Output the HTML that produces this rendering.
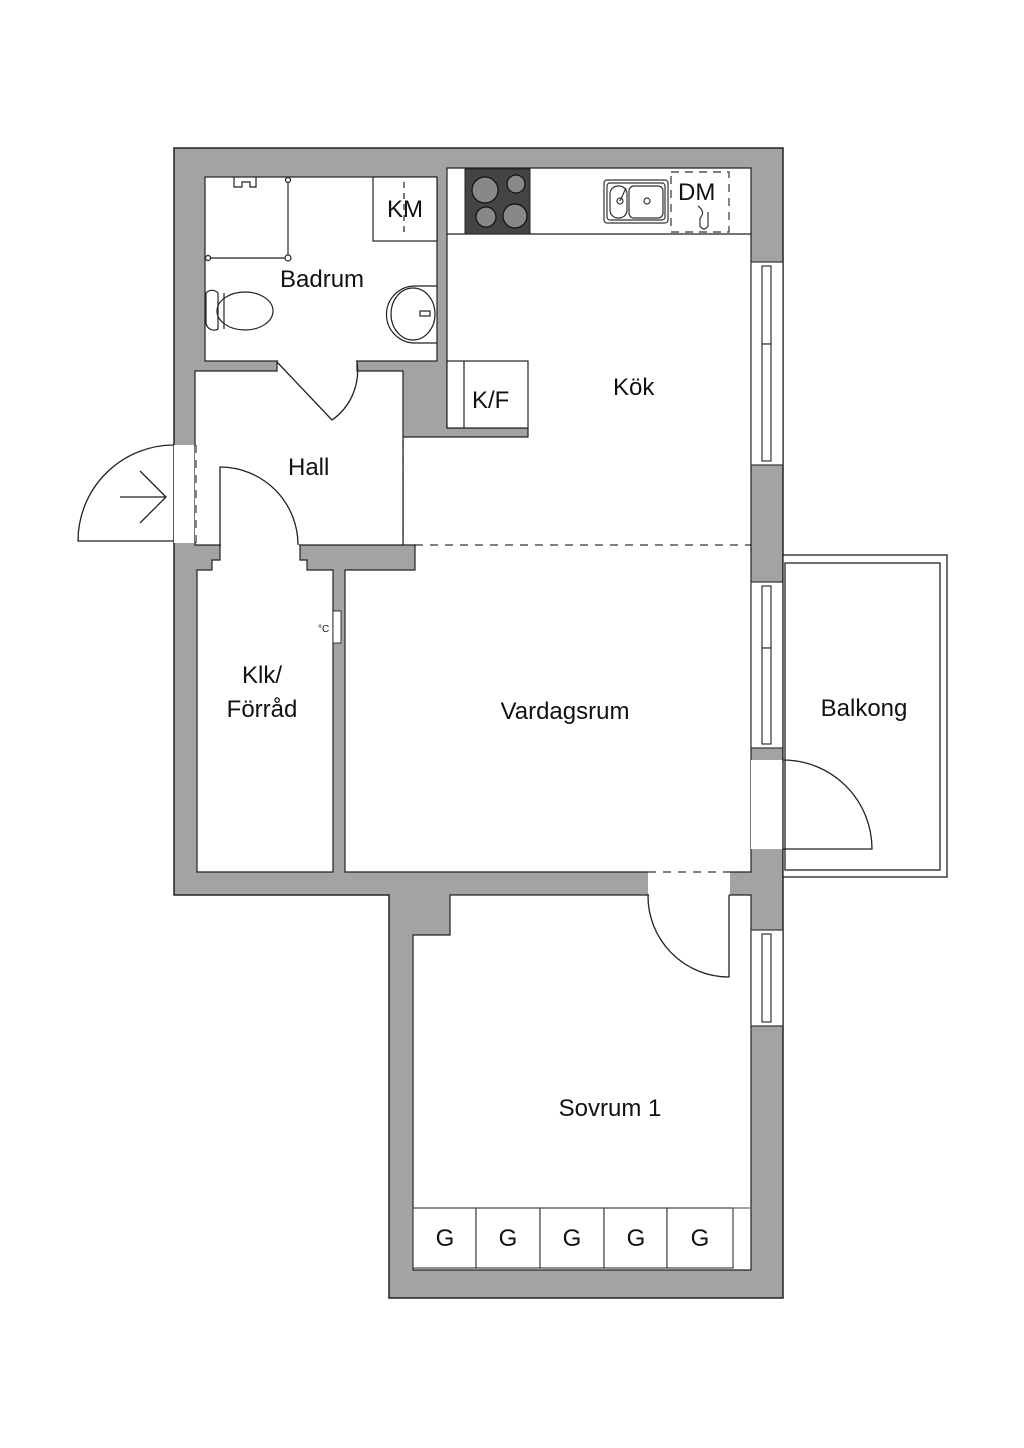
<!DOCTYPE html>
<html><head><meta charset="utf-8"><style>
html,body{margin:0;padding:0;background:#fff;}
svg{display:block}
text{font-family:"Liberation Sans",sans-serif;fill:#111;}
</style></head><body>
<svg width="1024" height="1448" viewBox="0 0 1024 1448" xmlns="http://www.w3.org/2000/svg">
<g stroke="#222" stroke-width="1.5">
<!-- outer gray mass -->
<path d="M174 148 H783 V1298 H389 V895 H174 Z" fill="#a3a3a3"/>
</g>
<g fill="#fff" stroke="#222" stroke-width="1.2">
<!-- entrance opening -->
<rect x="174" y="445" width="22" height="98" stroke="none"/>
<!-- Badrum -->
<rect x="205" y="177" width="232" height="184"/>
<!-- badrum door opening -->
<rect x="277" y="360" width="80" height="12" stroke="none"/>
<!-- Kitchen -->
<path d="M447 168 H751 V545 H403 V437 H528 V428 H447 Z"/>
<!-- Hall -->
<path d="M195 371 H277 V361 H357 V371 H403 V545 H195 Z"/>
<!-- closet door opening -->
<rect x="220" y="544" width="80" height="27" stroke="none"/>
<!-- Closet -->
<path d="M197 570 H212 V560 H220 V545 H300 V560 H307 V570 H333 V872 H197 Z"/>
<!-- Vardagsrum -->
<path d="M415 545 H751 V872 H345 V570 H415 Z"/>
<!-- sovrum door opening -->
<rect x="648" y="871" width="82" height="25" stroke="none"/>
<!-- Sovrum -->
<path d="M450 895 H751 V1270 H413 V935 H450 Z"/>
</g>
<!-- door gap cleanups -->
<rect x="195" y="446" width="3" height="96" fill="#fff"/>
<rect x="278" y="358" width="78" height="16" fill="#fff"/>
<rect x="221" y="543" width="78" height="29" fill="#fff"/>
<rect x="404" y="438" width="46" height="106" fill="#fff"/>
<rect x="416" y="543" width="334" height="4" fill="#fff"/>
<rect x="649" y="870" width="80" height="27" fill="#fff"/>
<!-- dashed thresholds -->
<g stroke="#333" stroke-width="1.2" stroke-dasharray="8,7" fill="none">
<line x1="196" y1="445" x2="196" y2="543"/>
<line x1="403" y1="440" x2="403" y2="543"/>
<line x1="415" y1="545" x2="750" y2="545"/>
<line x1="648" y1="872" x2="730" y2="872"/>
</g>
<!-- windows -->
<g fill="#fff" stroke="#333" stroke-width="1.2">
<rect x="751" y="262" width="32" height="203"/>
<rect x="762" y="266" width="9" height="78"/><rect x="762" y="344" width="9" height="117"/>
<rect x="751" y="582" width="32" height="166"/>
<rect x="762" y="586" width="9" height="62"/><rect x="762" y="648" width="9" height="96"/>
<rect x="751" y="930" width="32" height="96"/>
<rect x="762" y="934" width="9" height="88"/>
<!-- balcony door opening -->
<rect x="751" y="760" width="32" height="89" stroke="none"/>
</g>
<line x1="783" y1="760" x2="783" y2="849" stroke="#333" stroke-width="1.2"/>
<!-- balcony -->
<rect x="783" y="555" width="164" height="322" fill="#fff" stroke="#222" stroke-width="1.3"/>
<rect x="785" y="563" width="155" height="307" fill="none" stroke="#222" stroke-width="1.3"/>
<!-- doors -->
<g fill="none" stroke="#222" stroke-width="1.3">
<path d="M174 541 H78 A96 96 0 0 1 174 445"/>
<path d="M120 497 H166 M140 471 L166 497 L140 523"/>
<path d="M220 545 V467 A78 78 0 0 1 298 545"/>
<path d="M277 362 L332 420 A60 60 0 0 0 357 362"/>
<path d="M783 849 H872 A89 89 0 0 0 783 760"/>
<path d="M729 895 V977 A81 81 0 0 1 648 895"/>
</g>
<!-- bathroom fixtures -->
<g fill="none" stroke="#222" stroke-width="1.2">
<path d="M288 179 V258 H207"/>
<circle cx="288" cy="180" r="2.5" fill="#fff"/><circle cx="208" cy="258" r="2.5" fill="#fff"/><circle cx="288" cy="258" r="3" fill="#fff"/>
<path d="M234 177 v10 h8 v-5 h8 v5 h6 v-10"/>
<rect x="373" y="177" width="64" height="64" fill="#fff"/>
<line x1="404" y1="182" x2="404" y2="235" stroke-dasharray="6,5"/>
<path d="M218 293 a8 8 0 0 0 -12 0 v30 a8 8 0 0 0 12 6 Z"/>
<ellipse cx="245" cy="311" rx="28" ry="19"/>
<line x1="224" y1="293" x2="224" y2="329"/>
<path d="M437 286 H415 A28 28 0 0 0 415 343 H437"/>
<ellipse cx="413" cy="314" rx="22" ry="26"/>
<rect x="420" y="311" width="10" height="5"/>
</g>
<!-- kitchen counter -->
<line x1="447" y1="234" x2="751" y2="234" stroke="#222" stroke-width="1.3"/>
<rect x="465" y="169" width="65" height="65" fill="#444" stroke="#222"/>
<g fill="#888" stroke="#111" stroke-width="1.2">
<circle cx="485" cy="190" r="13"/><circle cx="516" cy="184" r="9"/>
<circle cx="486" cy="217" r="10"/><circle cx="515" cy="216" r="12"/>
</g>
<g fill="none" stroke="#333" stroke-width="1.2">
<rect x="604" y="180" width="64" height="43" rx="3"/>
<rect x="607" y="183" width="58" height="37" rx="3"/>
<rect x="610" y="186" width="17" height="32" rx="8"/>
<rect x="629" y="186" width="34" height="32" rx="5"/>
<circle cx="620" cy="201" r="3"/><circle cx="647" cy="201" r="3"/>
<line x1="620" y1="201" x2="626" y2="188"/>
<rect x="671" y="172" width="58" height="60" stroke-dasharray="8,6"/>
<path d="M698 206 q8 6 2 12 v8 q4 6 8 0 v-14"/>
</g>
<rect x="447" y="361" width="81" height="67" fill="#fff" stroke="#222" stroke-width="1.2"/>
<line x1="464" y1="361" x2="464" y2="428" stroke="#222" stroke-width="1.2"/>
<!-- thermostat -->
<rect x="333" y="611" width="8" height="32" fill="#fff" stroke="#333"/>
<text x="318" y="632" font-size="10">°C</text>
<!-- wardrobes -->
<g fill="#fff" stroke="#444" stroke-width="1.2">
<rect x="413" y="1208" width="63" height="60"/><rect x="476" y="1208" width="64" height="60"/>
<rect x="540" y="1208" width="64" height="60"/><rect x="604" y="1208" width="63" height="60"/>
<rect x="667" y="1208" width="66" height="60"/>
</g>
<line x1="733" y1="1208" x2="750" y2="1208" stroke="#444"/>
<!-- labels -->
<g font-size="24">
<text x="280" y="287">Badrum</text>
<text x="387" y="217">KM</text>
<text x="678" y="200">DM</text>
<text x="472" y="408">K/F</text>
<text x="613" y="395">Kök</text>
<text x="288" y="475">Hall</text>
<text x="262" y="683" text-anchor="middle">Klk/</text>
<text x="262" y="717" text-anchor="middle">Förråd</text>
<text x="565" y="719" text-anchor="middle">Vardagsrum</text>
<text x="864" y="716" text-anchor="middle">Balkong</text>
<text x="610" y="1116" text-anchor="middle">Sovrum 1</text>
<text x="445" y="1246" text-anchor="middle">G</text>
<text x="508" y="1246" text-anchor="middle">G</text>
<text x="572" y="1246" text-anchor="middle">G</text>
<text x="636" y="1246" text-anchor="middle">G</text>
<text x="700" y="1246" text-anchor="middle">G</text>
</g>
</svg>
</body></html>
